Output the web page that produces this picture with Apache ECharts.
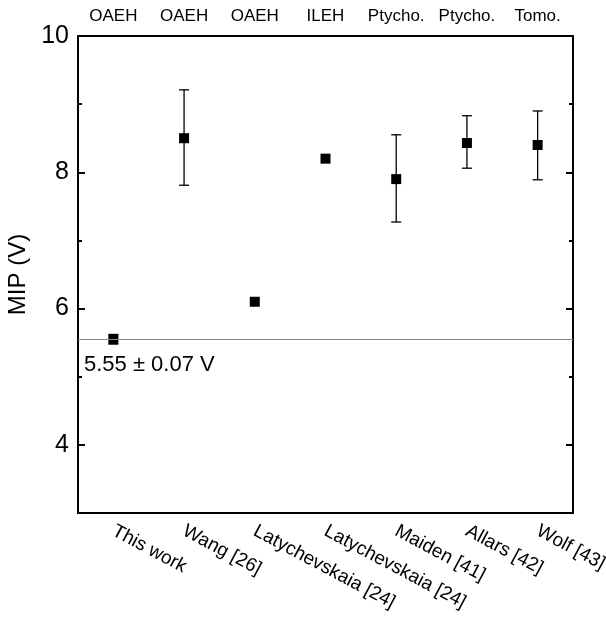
<!DOCTYPE html>
<html lang="en">
<head>
    <meta charset="UTF-8">
    <title>MIP comparison</title>
    <script src="https://cdn.jsdelivr.net/npm/echarts@6/dist/echarts.min.js"></script>
</head>
<body style="margin:0">
    <div id="main" style="width: 606px;height:617px;"></div>
    <script type="text/javascript">
        // data
        var categories = ['This work', 'Wang [26]', 'Latychevskaia [24]', 'Latychevskaia [24]', 'Maiden [41]', 'Allars [42]', 'Wolf [43]'];
        var methods = ['OAEH', 'OAEH', 'OAEH', 'ILEH', 'Ptycho.', 'Ptycho.', 'Tomo.'];
        var mip = [5.55, 8.5, 6.1, 8.2, 7.9, 8.43, 8.4];
        var errLow = [5.48, 7.81, null, null, 7.27, 8.06, 7.89];
        var errHigh = [5.62, 9.21, null, null, 8.55, 8.83, 8.9];
        var majorTicks = [4, 6, 8, 10];
        var minorTicks = [5, 7, 9];
        var thisWork = 5.55;

        var errData = [];
        for (var i = 0; i < categories.length; i++) {
            if (errLow[i] != null) errData.push([i, errLow[i], errHigh[i]]);
        }

        var font = 'Liberation Sans, Arial, sans-serif';
        var axLine = {lineStyle: {color: '#000', width: 2}};

        function yAx(pos, ticks, len, labels, line) {
            return {
                type: 'value', position: pos, min: 3, max: 10, interval: 1,
                axisLine: {show: line, lineStyle: {color: '#000', width: 2}},
                axisTick: {show: true, inside: true, length: len, customValues: ticks,
                    lineStyle: {color: '#000', width: 2}},
                axisLabel: {show: labels, customValues: ticks, fontSize: 25, color: '#000',
                    fontFamily: font, margin: 9},
                splitLine: {show: false}
            };
        }

        var myChart = echarts.init(document.getElementById('main'));
        var option = {
            animation: false,
            grid: {left: 78, right: 33, top: 36, bottom: 104, outerBoundsMode: 'none'},
            xAxis: [
                {
                    type: 'category', position: 'bottom', data: categories,
                    axisLine: axLine,
                    axisTick: {inside: true, alignWithLabel: true, length: 7, lineStyle: {color: '#000', width: 2}},
                    axisLabel: {rotate: -28, interval: 0, fontSize: 19, color: '#000', fontFamily: font, margin: 17}
                },
                {
                    type: 'category', position: 'top', data: methods,
                    axisLine: axLine,
                    axisTick: {inside: true, alignWithLabel: true, length: 7, lineStyle: {color: '#000', width: 2}},
                    axisLabel: {interval: 0, fontSize: 17, color: '#000', fontFamily: font, margin: 11}
                }
            ],
            yAxis: [
                Object.assign(yAx('left', majorTicks, 7, true, true), {
                    name: 'MIP (V)', nameLocation: 'middle', nameGap: 44,
                    nameTextStyle: {fontSize: 24, color: '#000', fontFamily: font}
                }),
                yAx('left', minorTicks, 4, false, false),
                yAx('right', majorTicks, 7, false, true),
                yAx('right', minorTicks, 4, false, false)
            ],
            series: [
                {
                    type: 'custom',
                    data: errData,
                    renderItem: function (params, api) {
                        var lo = api.coord([api.value(0), api.value(1)]);
                        var hi = api.coord([api.value(0), api.value(2)]);
                        var w = 5;
                        var st = {stroke: '#000', lineWidth: 1.3};
                        return {
                            type: 'group',
                            children: [
                                {type: 'line', shape: {x1: lo[0], y1: lo[1], x2: hi[0], y2: hi[1]}, style: st},
                                {type: 'line', shape: {x1: lo[0] - w, y1: lo[1], x2: lo[0] + w, y2: lo[1]}, style: st},
                                {type: 'line', shape: {x1: hi[0] - w, y1: hi[1], x2: hi[0] + w, y2: hi[1]}, style: st}
                            ]
                        };
                    },
                    z: 2
                },
                {
                    type: 'scatter',
                    data: mip,
                    symbol: 'rect',
                    symbolSize: 10,
                    itemStyle: {color: '#000', opacity: 1},
                    z: 3,
                    markLine: {
                        silent: true,
                        symbol: 'none',
                        label: {show: false},
                        lineStyle: {color: '#888', width: 1.2, type: 'solid'},
                        data: [{yAxis: thisWork}]
                    }
                }
            ],
            graphic: [
                {
                    type: 'text', left: 84, top: 354,
                    style: {text: '5.55 ± 0.07 V', fill: '#000', font: '22px Liberation Sans, Arial, sans-serif'}
                }
            ]
        };
        myChart.setOption(option);
    </script>
</body>
</html>
